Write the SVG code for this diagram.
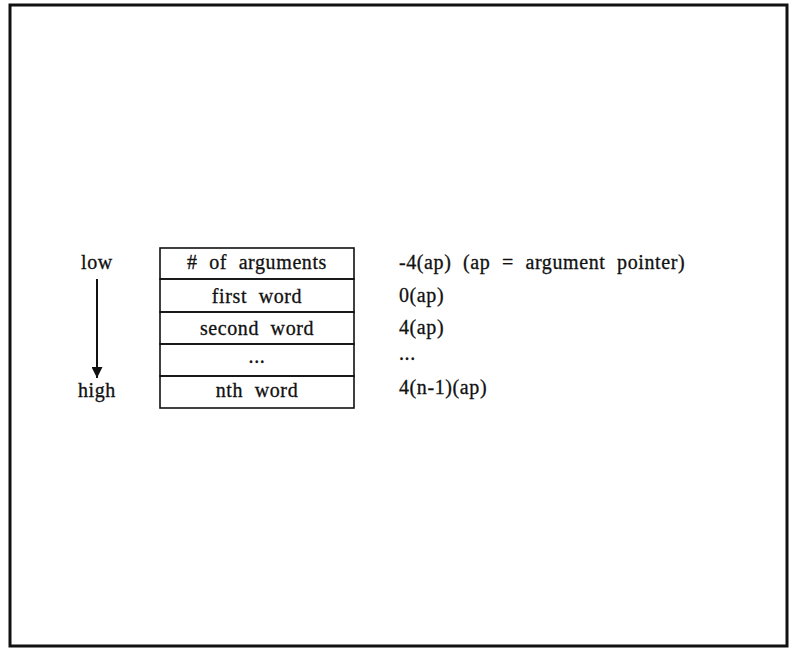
<svg xmlns="http://www.w3.org/2000/svg" width="795" height="649" viewBox="0 0 795 649">
<style>
text{font-family:"Liberation Serif","DejaVu Serif",serif;font-size:20px;fill:#111;stroke:#111;stroke-width:0.3;word-spacing:6px;letter-spacing:0.6px}
.c{text-anchor:middle}
.box{fill:none;stroke:#111;stroke-width:1.6}
</style>
<defs>
<marker id="ah" viewBox="0 0 10 10" refX="10" refY="5" markerWidth="11" markerHeight="11" markerUnits="userSpaceOnUse" orient="auto">
<path d="M0,0 L10,5 L0,10 z" fill="#111"/>
</marker>
</defs>
<rect x="0" y="0" width="795" height="649" fill="#fff"/>
<rect x="10" y="5" width="777" height="641" fill="none" stroke="#111" stroke-width="3"/>
<g id="connectors">
<line x1="97" y1="279" x2="97" y2="378" stroke="#111" stroke-width="2" marker-end="url(#ah)"/>
</g>
<g id="label-low"><text x="97" y="269" class="c">low</text></g>
<g id="label-high"><text x="97" y="397" class="c">high</text></g>
<g id="row-nargs"><rect class="box" x="160" y="248" width="194" height="31"/><text x="257" y="269" class="c"># of arguments</text></g>
<g id="row-first"><rect class="box" x="160" y="279" width="194" height="33"/><text x="257" y="303" class="c">first word</text></g>
<g id="row-second"><rect class="box" x="160" y="312" width="194" height="32"/><text x="257" y="335" class="c">second word</text></g>
<g id="row-dots"><rect class="box" x="160" y="344" width="194" height="32"/><text x="257" y="363" class="c">...</text></g>
<g id="row-nth"><rect class="box" x="160" y="376" width="194" height="32"/><text x="257" y="397" class="c">nth word</text></g>
<g id="offsets">
<text x="399" y="269">-4(ap) (ap = argument pointer)</text>
<text x="399" y="302">0(ap)</text>
<text x="399" y="334">4(ap)</text>
<text x="399" y="360">...</text>
<text x="399" y="394">4(n-1)(ap)</text>
</g>
</svg>
